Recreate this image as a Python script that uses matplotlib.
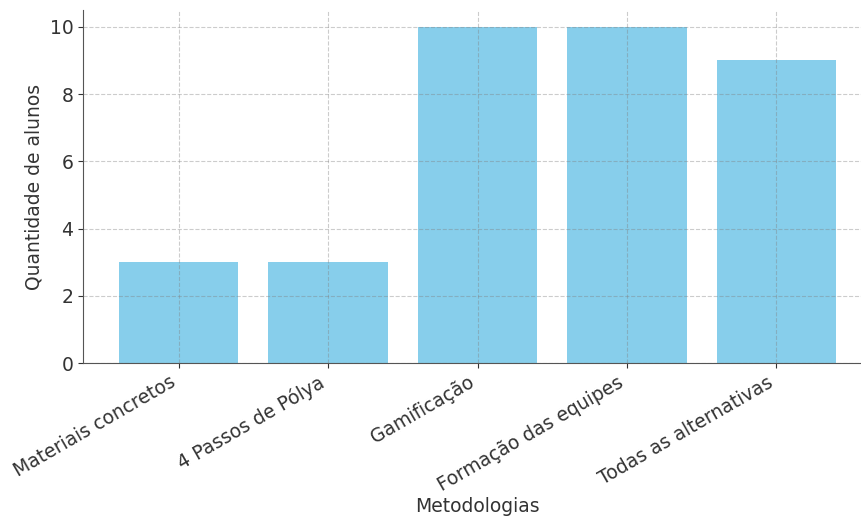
import matplotlib.pyplot as plt

# Data
metodologias = ["Materiais concretos", "4 Passos de Pólya", "Gamificação",
                "Formação das equipes", "Todas as alternativas"]
alunos = [3, 3, 10, 10, 9]

plt.rcParams['font.family'] = ['DejaVu Sans']

fig = plt.figure(figsize=(8.61, 5.16), dpi=100)
ax = fig.add_axes([0.0964, 0.2965, 0.9164, 0.684])

ax.bar(metodologias, alunos, color='skyblue', width=0.8)
ax.set_ylim(0, 10.5)
ax.set_yticks([0, 2, 4, 6, 8, 10])

ax.set_xlabel("Metodologias", fontsize=13.5, color='#333333', labelpad=2)
ax.set_ylabel("Quantidade de alunos", fontsize=13.5, color='#333333')
ax.tick_params(axis='both', labelsize=13.5, labelcolor='#333333', color='#333333')
plt.setp(ax.get_xticklabels(), rotation=30, ha='right')

ax.grid(True, linestyle='--', color='gray', alpha=0.4, linewidth=0.8)
ax.spines['top'].set_visible(False)
ax.spines['right'].set_visible(False)
ax.spines['left'].set_color('#555555')
ax.spines['bottom'].set_color('#555555')

plt.savefig("out.png", dpi=100)
plt.close()
